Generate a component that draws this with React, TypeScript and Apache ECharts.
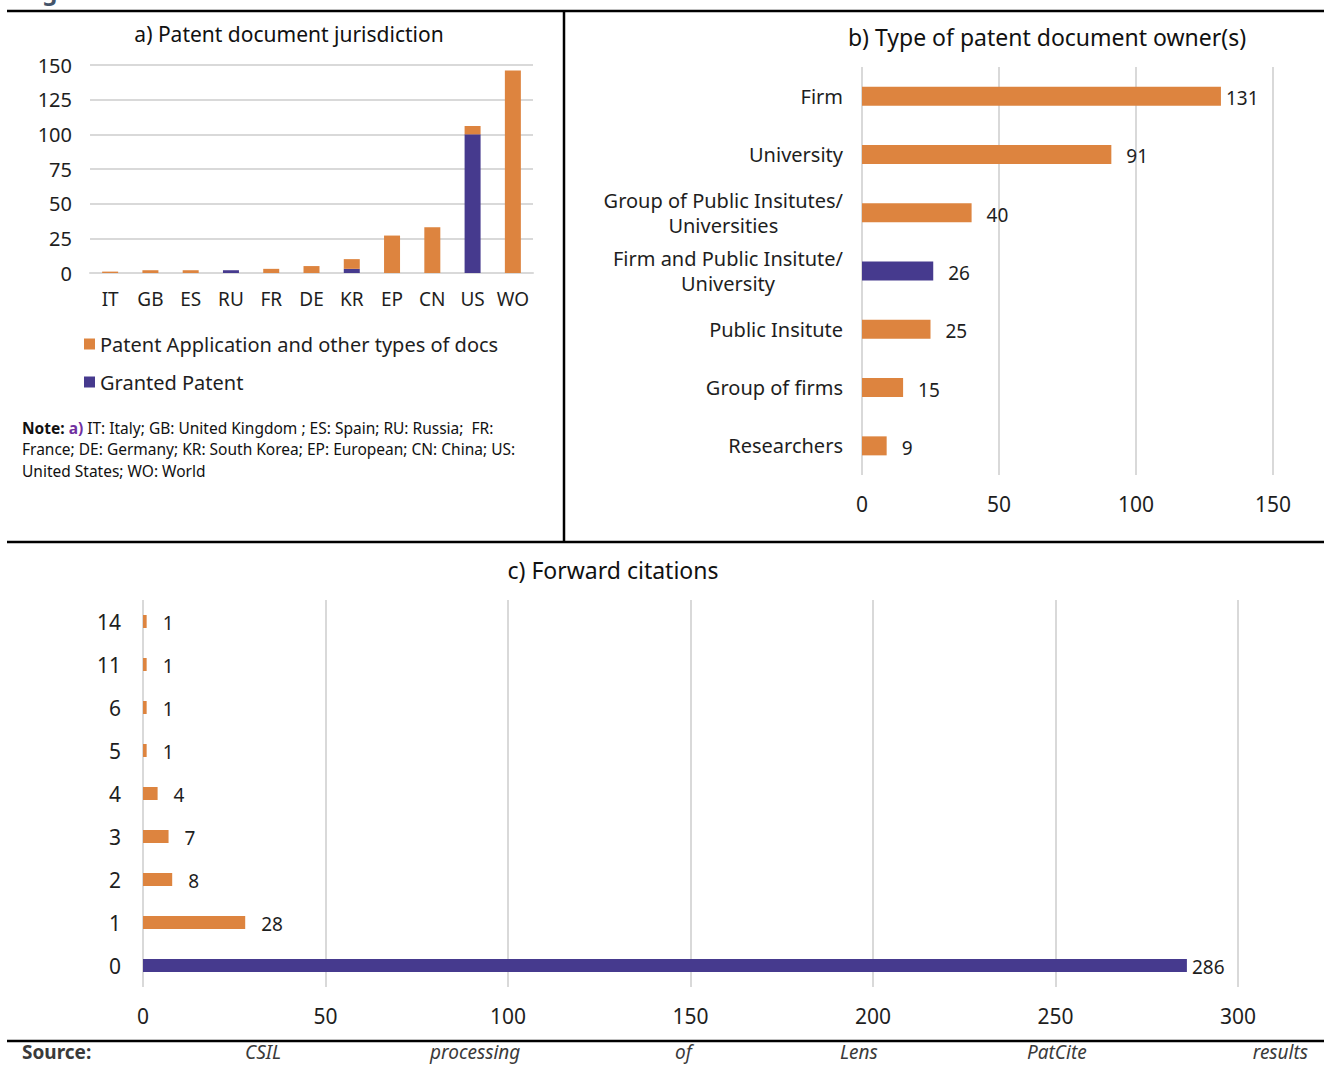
import React, { useEffect, useRef } from 'react';
import * as echarts from 'echarts';

// ---- Data ----
const jurisdictions = ['IT', 'GB', 'ES', 'RU', 'FR', 'DE', 'KR', 'EP', 'CN', 'US', 'WO'];
const applicationDocs = [1, 2, 2, 0, 3, 5, 7, 27, 33, 6, 146];
const grantedPatents = [0, 0, 0, 2, 0, 0, 3, 0, 0, 100, 0];

const ownerTypes = [
  'Firm',
  'University',
  'Group of Public Insitutes/\nUniversities',
  'Firm and Public Insitute/\nUniversity',
  'Public Insitute',
  'Group of firms',
  'Researchers',
];
const ownerCounts = [131, 91, 40, 26, 25, 15, 9];
const ownerHighlighted = ['Firm and Public Insitute/\nUniversity'];

const citationCounts = ['0', '1', '2', '3', '4', '5', '6', '11', '14'];
const citationDocs = [286, 28, 8, 7, 4, 1, 1, 1, 1];
const citationHighlighted = ['0'];

const sourceWords = ['CSIL', 'processing', 'of', 'Lens', 'PatCite', 'results'];

const ORANGE = '#DD843F';
const PURPLE = '#463A8E';
const GRID = '#D9D9D9';
const TXT = '#1E1E1E';
const FONT = "'Noto Sans', 'DejaVu Sans', sans-serif";

export default function App() {
  const ref = useRef<HTMLDivElement>(null);

  useEffect(() => {
    document.body.style.margin = '0';
    const chart = echarts.init(ref.current!, null, { renderer: 'svg' });

    const lineEl = (x1: number, y1: number, x2: number, y2: number) => ({
      type: 'line',
      shape: { x1, y1, x2, y2 },
      style: { stroke: '#000', lineWidth: 2.5 },
      silent: true,
    });

    const sourceX = [245, 430, 675, 840, 1027, 1308];

    const option: any = {
      animation: false,
      textStyle: { fontFamily: FONT },
      grid: [
        { left: 90, top: 65, width: 443, height: 208 },
        { left: 862, top: 67, width: 411, height: 408 },
        { left: 143, top: 600, width: 1095, height: 387 },
      ],
      legend: {
        data: ['Patent Application and other types of docs', 'Granted Patent'],
        orient: 'vertical',
        left: 84,
        top: 334,
        itemWidth: 11,
        itemHeight: 11,
        itemGap: 18,
        icon: 'rect',
        padding: 0,
        textStyle: { fontSize: 20, color: TXT, fontFamily: FONT },
      },
      xAxis: [
        {
          type: 'category',
          gridIndex: 0,
          data: jurisdictions,
          axisLine: { lineStyle: { color: GRID, width: 2 } },
          axisTick: { show: false },
          axisLabel: { fontSize: 19, color: TXT, margin: 16, interval: 0, fontFamily: FONT },
        },
        {
          type: 'value',
          gridIndex: 1,
          min: 0,
          max: 150,
          interval: 50,
          axisLine: { show: false },
          axisTick: { show: false },
          splitLine: { lineStyle: { color: GRID, width: 2 } },
          axisLabel: { fontSize: 21, color: TXT, margin: 18, fontFamily: FONT },
        },
        {
          type: 'value',
          gridIndex: 2,
          min: 0,
          max: 300,
          interval: 50,
          axisLine: { show: false },
          axisTick: { show: false },
          splitLine: { lineStyle: { color: GRID, width: 2 } },
          axisLabel: { fontSize: 21, color: TXT, margin: 18, fontFamily: FONT },
        },
      ],
      yAxis: [
        {
          type: 'value',
          gridIndex: 0,
          min: 0,
          max: 150,
          interval: 25,
          axisLine: { show: false },
          axisTick: { show: false },
          splitLine: { lineStyle: { color: GRID, width: 2 } },
          axisLabel: { fontSize: 20, color: TXT, margin: 18, fontFamily: FONT },
        },
        {
          type: 'category',
          gridIndex: 1,
          data: ownerTypes,
          inverse: true,
          axisLine: { show: false },
          axisTick: { show: false },
          axisLabel: {
            fontSize: 20,
            color: TXT,
            margin: 19,
            lineHeight: 25,
            fontFamily: FONT,
            formatter: (v: string) =>
              v.includes('\n')
                ? v
                    .split('\n')
                    .map((l) => '{c|' + l + '}')
                    .join('\n')
                : v,
            rich: {
              c: { align: 'center', fontSize: 20, color: TXT, lineHeight: 25, fontFamily: FONT },
            },
          },
        },
        {
          type: 'category',
          gridIndex: 2,
          data: citationCounts,
          axisLabel: { fontSize: 21, color: TXT, margin: 22, fontFamily: FONT },
          axisLine: { show: false },
          axisTick: { show: false },
        },
      ],
      series: [
        {
          type: 'bar',
          name: 'Granted Patent',
          xAxisIndex: 0,
          yAxisIndex: 0,
          stack: 'a',
          barWidth: 16,
          itemStyle: { color: PURPLE },
          data: grantedPatents,
        },
        {
          type: 'bar',
          name: 'Patent Application and other types of docs',
          xAxisIndex: 0,
          yAxisIndex: 0,
          stack: 'a',
          barWidth: 16,
          itemStyle: { color: ORANGE },
          data: applicationDocs,
        },
        {
          type: 'bar',
          name: 'owners',
          xAxisIndex: 1,
          yAxisIndex: 1,
          barWidth: 19,
          label: {
            show: true,
            position: 'right',
            distance: 15,
            fontSize: 19,
            color: TXT,
            fontFamily: FONT,
            offset: [0, 2],
          },
          data: ownerCounts.map((v, i) => ({
            value: v,
            itemStyle: { color: ownerHighlighted.includes(ownerTypes[i]) ? PURPLE : ORANGE },
            label: i === 0 ? { distance: 5 } : undefined,
          })),
        },
        {
          type: 'bar',
          name: 'citations',
          xAxisIndex: 2,
          yAxisIndex: 2,
          barWidth: 13,
          label: {
            show: true,
            position: 'right',
            distance: 16,
            fontSize: 19,
            color: TXT,
            fontFamily: FONT,
            offset: [0, 1],
          },
          data: citationDocs.map((v, i) => ({
            value: v,
            itemStyle: { color: citationHighlighted.includes(citationCounts[i]) ? PURPLE : ORANGE },
            label: i === 0 ? { distance: 5 } : undefined,
          })),
        },
      ],
      graphic: [
        {
          type: 'text',
          x: 22,
          y: -22,
          style: { text: 'Figure', font: `bold 24px ${FONT}`, fill: '#44546A' },
          silent: true,
        },
        lineEl(7, 11, 1324, 11),
        lineEl(564, 11, 564, 542),
        lineEl(7, 542, 1324, 542),
        lineEl(7, 1041, 1324, 1041),
        {
          type: 'text',
          x: 289,
          y: 34,
          style: {
            text: 'a) Patent document jurisdiction',
            align: 'center',
            verticalAlign: 'middle',
            fontSize: 21,
            fontFamily: FONT,
            fill: '#111',
          },
        },
        {
          type: 'text',
          x: 1047,
          y: 37,
          style: {
            text: 'b) Type of patent document owner(s)',
            align: 'center',
            verticalAlign: 'middle',
            fontSize: 23,
            fontFamily: FONT,
            fill: '#111',
          },
        },
        {
          type: 'text',
          x: 613,
          y: 570,
          style: {
            text: 'c) Forward citations',
            align: 'center',
            verticalAlign: 'middle',
            fontSize: 23,
            fontFamily: FONT,
            fill: '#111',
          },
        },
        {
          type: 'text',
          x: 22,
          y: 417,
          style: {
            text:
              '{b|Note:} {p|a)} IT: Italy; GB: United Kingdom ; ES: Spain; RU: Russia;  FR:\n' +
              'France; DE: Germany; KR: South Korea; EP: European; CN: China; US:\n' +
              'United States; WO: World',
            fontSize: 15.5,
            fontFamily: FONT,
            fill: '#111',
            lineHeight: 21.5,
            rich: {
              b: { fontWeight: 'bold', fontSize: 15.5, fontFamily: FONT, fill: '#111', lineHeight: 21.5 },
              p: { fontWeight: 'bold', fontSize: 15.5, fontFamily: FONT, fill: '#7030A0', lineHeight: 21.5 },
            },
          },
        },
        {
          type: 'text',
          x: 22,
          y: 1052,
          style: {
            text: 'Source:',
            verticalAlign: 'middle',
            fontSize: 19,
            fontWeight: 'bold',
            fontFamily: FONT,
            fill: '#3A3A3A',
          },
        },
        ...sourceWords.map((w, i) => ({
          type: 'text',
          x: sourceX[i],
          y: 1052,
          style: {
            text: w,
            align: i === sourceWords.length - 1 ? 'right' : 'left',
            verticalAlign: 'middle',
            fontSize: 19,
            fontStyle: 'italic',
            fontFamily: FONT,
            fill: '#3A3A3A',
          },
        })),
      ],
    };

    chart.setOption(option);
    return () => chart.dispose();
  }, []);

  return <div ref={ref} style={{ width: 1324, height: 1065 }} />;
}
